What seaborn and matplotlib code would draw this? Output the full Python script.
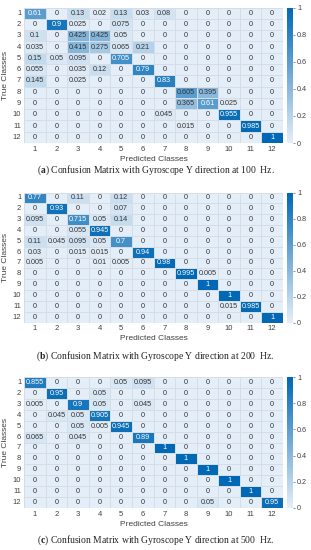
import numpy as np
import pandas as pd
import matplotlib
matplotlib.use("Agg")
import matplotlib.pyplot as plt
import seaborn as sns
from matplotlib.colors import LinearSegmentedColormap

sns.set_theme(style="white")
plt.rcParams['font.family'] = ['Liberation Sans', 'DejaVu Sans']
plt.rcParams['mathtext.fontset'] = 'custom'
plt.rcParams['mathtext.rm'] = 'Liberation Serif'
plt.rcParams['mathtext.bf'] = 'Liberation Serif:bold'

classes = [str(i) for i in range(1, 13)]

cm_100 = [
    [0.61, 0, 0.13, 0.02, 0.13, 0.03, 0.08, 0, 0, 0, 0, 0],
    [0, 0.9, 0.025, 0, 0.075, 0, 0, 0, 0, 0, 0, 0],
    [0.1, 0, 0.425, 0.425, 0.05, 0, 0, 0, 0, 0, 0, 0],
    [0.035, 0, 0.415, 0.275, 0.065, 0.21, 0, 0, 0, 0, 0, 0],
    [0.15, 0.05, 0.095, 0, 0.705, 0, 0, 0, 0, 0, 0, 0],
    [0.055, 0, 0.035, 0.12, 0, 0.79, 0, 0, 0, 0, 0, 0],
    [0.145, 0, 0.025, 0, 0, 0, 0.83, 0, 0, 0, 0, 0],
    [0, 0, 0, 0, 0, 0, 0, 0.605, 0.395, 0, 0, 0],
    [0, 0, 0, 0, 0, 0, 0, 0.365, 0.61, 0.025, 0, 0],
    [0, 0, 0, 0, 0, 0, 0.045, 0, 0, 0.955, 0, 0],
    [0, 0, 0, 0, 0, 0, 0, 0.015, 0, 0, 0.985, 0],
    [0, 0, 0, 0, 0, 0, 0, 0, 0, 0, 0, 1],
]

cm_200 = [
    [0.77, 0, 0.11, 0, 0.12, 0, 0, 0, 0, 0, 0, 0],
    [0, 0.93, 0, 0, 0.07, 0, 0, 0, 0, 0, 0, 0],
    [0.095, 0, 0.715, 0.05, 0.14, 0, 0, 0, 0, 0, 0, 0],
    [0, 0, 0.055, 0.945, 0, 0, 0, 0, 0, 0, 0, 0],
    [0.11, 0.045, 0.095, 0.05, 0.7, 0, 0, 0, 0, 0, 0, 0],
    [0.03, 0, 0.015, 0.015, 0, 0.94, 0, 0, 0, 0, 0, 0],
    [0.005, 0, 0, 0.01, 0.005, 0, 0.98, 0, 0, 0, 0, 0],
    [0, 0, 0, 0, 0, 0, 0, 0.995, 0.005, 0, 0, 0],
    [0, 0, 0, 0, 0, 0, 0, 0, 1, 0, 0, 0],
    [0, 0, 0, 0, 0, 0, 0, 0, 0, 1, 0, 0],
    [0, 0, 0, 0, 0, 0, 0, 0, 0, 0.015, 0.985, 0],
    [0, 0, 0, 0, 0, 0, 0, 0, 0, 0, 0, 1],
]

cm_500 = [
    [0.855, 0, 0, 0, 0.05, 0.095, 0, 0, 0, 0, 0, 0],
    [0, 0.95, 0, 0.05, 0, 0, 0, 0, 0, 0, 0, 0],
    [0.005, 0, 0.9, 0.05, 0, 0.045, 0, 0, 0, 0, 0, 0],
    [0, 0.045, 0.05, 0.905, 0, 0, 0, 0, 0, 0, 0, 0],
    [0, 0, 0.05, 0.005, 0.945, 0, 0, 0, 0, 0, 0, 0],
    [0.065, 0, 0.045, 0, 0, 0.89, 0, 0, 0, 0, 0, 0],
    [0, 0, 0, 0, 0, 0, 1, 0, 0, 0, 0, 0],
    [0, 0, 0, 0, 0, 0, 0, 1, 0, 0, 0, 0],
    [0, 0, 0, 0, 0, 0, 0, 0, 1, 0, 0, 0],
    [0, 0, 0, 0, 0, 0, 0, 0, 0, 1, 0, 0],
    [0, 0, 0, 0, 0, 0, 0, 0, 0, 0, 1, 0],
    [0, 0, 0, 0, 0, 0, 0, 0, 0.05, 0, 0, 0.95],
]

captions = [
    (r"($\mathbf{a}$)", "Confusion Matrix with Gyroscope Y direction at 100  Hz."),
    (r"($\mathbf{b}$)", "Confusion Matrix with Gyroscope Y direction at 200  Hz."),
    (r"($\mathbf{c}$)", "Confusion Matrix with Gyroscope Y direction at 500  Hz."),
]

W, H = 311, 550
fig = plt.figure(figsize=(W / 100, H / 100), dpi=100)

cmap = LinearSegmentedColormap.from_list("mblues", ["#e4eef8", "#0068b4"])
txt_dark = "#333333"

# (top, bottom) in pixels for each panel
panels = [(7.5, 143.0), (192.5, 322.5), (377.0, 508.0)]
caption_y = [170, 356, 540]
mats = [cm_100, cm_200, cm_500]

left, right = 24, 283
cb_l, cb_r = 287, 293

for k, (mat, (top, bot)) in enumerate(zip(mats, panels)):
    ax = fig.add_axes([left / W, 1 - bot / H, (right - left) / W, (bot - top) / H])
    cax = fig.add_axes([cb_l / W, 1 - bot / H, (cb_r - cb_l) / W, (bot - top) / H])
    df = pd.DataFrame(mat, index=classes, columns=classes)
    sns.heatmap(df, ax=ax, cbar_ax=cax, cmap=cmap, vmin=0, vmax=1,
                annot=True, fmt="g", annot_kws={"fontsize": 5.2},
                xticklabels=classes, yticklabels=classes,
                linewidths=0.5, linecolor="#d6dde4", square=False)
    arr = np.array(mat)
    for t in ax.texts:
        x, y = t.get_position()
        v = arr[int(y), int(x)]
        t.set_color("white" if v >= 0.61 else txt_dark)
    ax.tick_params(axis="both", length=0, labelsize=5.5, colors="#404040", pad=2)
    ax.tick_params(axis="y", labelrotation=0)
    ax.tick_params(axis="x", labelrotation=0)
    ax.set_xlabel("Predicted Classes", fontsize=6, color="#404040", labelpad=2)
    ax.set_ylabel("True Classes", fontsize=6, color="#404040", labelpad=3)
    for s in ax.spines.values():
        s.set_visible(False)
    cax.set_yticks([0, 0.2, 0.4, 0.6, 0.8, 1])
    cax.set_yticklabels(["0", "0.2", "0.4", "0.6", "0.8", "1"])
    cax.tick_params(labelsize=5.2, colors="#404040", length=1.5, width=0.4, pad=1.5)
    for s in cax.spines.values():
        s.set_visible(False)
    lab, rest = captions[k]
    fig.text(0.5, 1 - caption_y[k] / H, lab + " " + rest, ha="center", va="center",
             fontsize=6.9, family="Liberation Serif", color="#222222")

fig.savefig("out.png", dpi=100)
